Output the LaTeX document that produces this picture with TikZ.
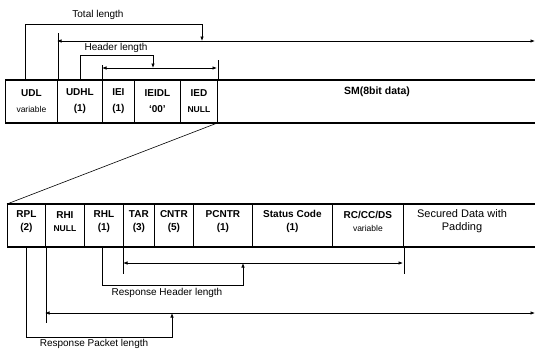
\documentclass[tikz,border=0pt]{standalone}
\usepackage{fontspec}
\setmainfont{Liberation Sans}
\usetikzlibrary{arrows.meta}
\newcommand{\smallt}{\fontsize{8.5}{13}\selectfont}
\begin{document}
\begin{tikzpicture}[x=1pt,y=-1pt,
  cell/.style={draw, line width=0.8pt, minimum height=42pt, inner sep=0pt, anchor=north west},
  lblA/.style={font=\bfseries\fontsize{10}{16}\selectfont, align=center, inner sep=0pt},
  lblB/.style={font=\bfseries\fontsize{10}{13}\selectfont, align=center, inner sep=0pt, yshift=4pt},
  note/.style={font=\fontsize{10}{12}\selectfont, inner sep=0pt},
  tip/.style={-{Latex[length=4.5pt,width=3.5pt]}, line width=0.7pt},
  both/.style={{Latex[length=4.5pt,width=3.5pt]}-{Latex[length=4.5pt,width=3.5pt]}, line width=0.7pt},
  guide/.style={line width=0.6pt},
  rule/.style={line width=1.4pt}]
\useasboundingbox (0,0) rectangle (535,349);

% ---- row 1 ----
\node[cell, minimum width=52pt] (udl) at (5,80) {};
\node[cell, minimum width=45pt] (udhl) at (57,80) {};
\node[cell, minimum width=32pt] (iei) at (102,80) {};
\node[cell, minimum width=46pt] (ieidl) at (134,80) {};
\node[cell, minimum width=37pt] (ied) at (180,80) {};
\node[cell, draw=none, minimum width=318pt] (sm) at (217,80) {};
\draw[rule] (udl.north west) -- (sm.north east);
\draw[rule] (udl.south west) -- (sm.south east);

\node[lblA] (udl-t) at (udl.center) {UDL\\{\smallt\mdseries variable}};
\node[lblA] (udhl-t) at (udhl.center) {UDHL\\(1)};
\node[lblA] (iei-t) at (iei.center) {IEI\\(1)};
\node[lblA] (ieidl-t) at (ieidl.center) {IEIDL\\`00'};
\node[lblA] (ied-t) at (ied.center) {IED\\{\smallt NULL}};
\node[font=\fontsize{10.5}{12}\selectfont\bfseries, inner sep=0pt] (sm-t) at (377,92) {SM(8bit data)};

% ---- row 2 ----
\node[cell, minimum width=38pt] (rpl) at (7,204) {};
\node[cell, minimum width=39pt] (rhi) at (45,204) {};
\node[cell, minimum width=39pt] (rhl) at (84,204) {};
\node[cell, minimum width=31pt] (tar) at (123,204) {};
\node[cell, minimum width=39pt] (cntr) at (154,204) {};
\node[cell, minimum width=59pt] (pcntr) at (193,204) {};
\node[cell, minimum width=80pt] (status) at (252,204) {};
\node[cell, minimum width=71pt] (rc) at (332,204) {};
\node[cell, draw=none, minimum width=132pt] (sec) at (403,204) {};
\draw[rule] (rpl.north west) -- (sec.north east);
\draw[rule] (rpl.south west) -- (sec.south east);

\node[lblB] (rpl-t) at (rpl.center) {RPL\\(2)};
\node[lblB] (rhi-t) at (rhi.center) {RHI\\{\smallt NULL}};
\node[lblB] (rhl-t) at (rhl.center) {RHL\\(1)};
\node[lblB] (tar-t) at (tar.center) {TAR\\(3)};
\node[lblB] (cntr-t) at (cntr.center) {CNTR\\(5)};
\node[lblB] (pcntr-t) at (pcntr.center) {PCNTR\\(1)};
\node[lblB] (status-t) at (status.center) {Status Code\\(1)};
\node[lblB] (rc-t) at (rc.center) {RC/CC/DS\\{\smallt\mdseries variable}};
\node[lblB, font=\fontsize{11}{13}\selectfont] (sec-t) at (462,225) {Secured Data with\\Padding};

% ---- link between rows ----
\draw[guide] (ied.south east) -- (rpl.north west);

% ---- Total length ----
\coordinate (tl-a) at (25,24);
\coordinate (tl-b) at (202,24);
\coordinate (tl-l) at (57,41);
\coordinate (tl-r) at (535,41);
\draw[guide] (udl.north east) -- ++(0,-47);
\draw[both] (tl-l) -- (tl-r);
\draw[tip] (tl-a |- udl.north) -- (tl-a) -- (tl-b) -- (tl-b |- tl-l);
\node[note] (tl-t) at (98,15) {Total length};

% ---- Header length ----
\coordinate (hl-a) at (80,55);
\coordinate (hl-b) at (153,55);
\coordinate (hl-l) at (102,68);
\coordinate (hl-r) at (217,68);
\draw[guide] (iei.north west) -- ++(0,-15);
\draw[guide] (ied.north east) -- ++(0,-20);
\draw[both] (hl-l) -- (hl-r);
\draw[tip] (hl-a |- udhl.north) -- (hl-a) -- (hl-b) -- (hl-b |- hl-l);
\node[note] (hl-t) at (116,48) {Header length};

% ---- Response Header length ----
\coordinate (rh-a) at (102,285);
\coordinate (rh-b) at (243,285);
\coordinate (rh-l) at (123,263);
\coordinate (rh-r) at (403,263);
\draw[guide] (tar.south west) -- ++(0,27);
\draw[guide] (rc.south east) -- ++(0,27);
\draw[both] (rh-l) -- (rh-r);
\draw[tip] (rh-a |- rhl.south) -- (rh-a) -- (rh-b) -- (rh-b |- rh-l);
\node[note] (rh-t) at (167,293) {Response Header length};

% ---- Response Packet length ----
\coordinate (rp-a) at (26,337);
\coordinate (rp-b) at (172,337);
\coordinate (rp-l) at (45,313);
\coordinate (rp-r) at (535,313);
\draw[guide] (rpl.south east) -- ++(0,76);
\draw[both] (rp-l) -- (rp-r);
\draw[tip] (rp-a |- rpl.south) -- (rp-a) -- (rp-b) -- (rp-b |- rp-l);
\node[note] (rp-t) at (94,344) {Response Packet length};
\end{tikzpicture}
\end{document}
